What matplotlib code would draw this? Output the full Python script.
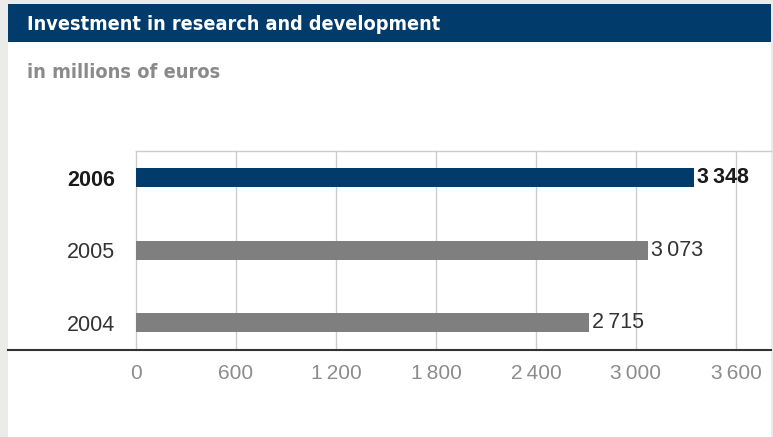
import matplotlib.pyplot as plt
from matplotlib.lines import Line2D
from matplotlib.patches import Rectangle

# data
years = ['2004', '2005', '2006']
values = [2715, 3073, 3348]
tick_values = [0, 600, 1200, 1800, 2400, 3000, 3600]
tick_labels = ['0', '600', '1\u2009200', '1\u2009800', '2\u2009400', '3\u2009000', '3\u2009600']
value_labels = ['2\u2009715', '3\u2009073', '3\u2009348']

W, H = 773, 437
navy = '#003b6b'
grey_bar = '#7f7f7f'
bg = '#ebecea'

plt.rcParams['font.family'] = ['Liberation Sans', 'DejaVu Sans']

fig = plt.figure(figsize=(W / 100, H / 100), dpi=100, facecolor=bg)


def fx(x):
    return x / W


def fy(y):
    return 1 - y / H


# white panel and header band
fig.add_artist(Rectangle((fx(8), 0), fx(771) - fx(8), fy(4), transform=fig.transFigure,
                         facecolor='white', edgecolor='none', zorder=0))
fig.add_artist(Rectangle((fx(8), fy(42)), fx(771) - fx(8), fy(4) - fy(42), transform=fig.transFigure,
                         facecolor=navy, edgecolor='none', zorder=1))

fig.text(fx(27), fy(24), 'Investment in research and development', color='white',
         fontsize=14.2, fontweight='bold', va='center', ha='left',
         family='DejaVu Sans', fontstretch='condensed')
fig.text(fx(27), fy(72), 'in millions of euros', color='#8a8a8a',
         fontsize=14.3, fontweight='bold', va='center', ha='left',
         family='DejaVu Sans', fontstretch='condensed')

ax = fig.add_axes([fx(136), fy(350), fx(736) - fx(136), fy(150.7) - fy(350)])
ax.set_facecolor('none')
for s in ax.spines.values():
    s.set_visible(False)

ypos = list(range(len(years)))
colors = [grey_bar, grey_bar, navy]
ax.barh(ypos, values, height=0.263, color=colors, zorder=3)

ax.set_xlim(0, 3600)
ax.set_ylim(-0.38, 2.376)
ax.set_xticks(tick_values, tick_labels)
ax.grid(axis='x', color='#cccccc', linewidth=1, zorder=0)
for gl in ax.get_xgridlines():
    gl.set_clip_on(False)
ax.tick_params(axis='x', length=0, pad=10, labelsize=15, labelcolor='#8c8c8c')
ax.tick_params(axis='y', length=0, pad=15, labelsize=15.5, labelcolor='#333333')
ax.set_yticks(ypos, years)
ylabs = ax.get_yticklabels()
ylabs[-1].set_fontweight('bold')
ylabs[-1].set_color('#1a1a1a')

for i, (v, lab) in enumerate(zip(values, value_labels)):
    bold = i == len(values) - 1
    ax.text(v + 18, i, lab, va='center', ha='left', fontsize=15.5,
            fontweight='bold' if bold else 'normal',
            color='#1a1a1a' if bold else '#333333')

# top and bottom rules
fig.add_artist(Line2D([fx(136), fx(771)], [fy(150.7), fy(150.7)], transform=fig.transFigure,
                      color='#cccccc', linewidth=1))
fig.add_artist(Line2D([fx(8), fx(771)], [fy(350), fy(350)], transform=fig.transFigure,
                      color='#333333', linewidth=1.5))

fig.savefig('out.png', dpi=100, facecolor=bg)
